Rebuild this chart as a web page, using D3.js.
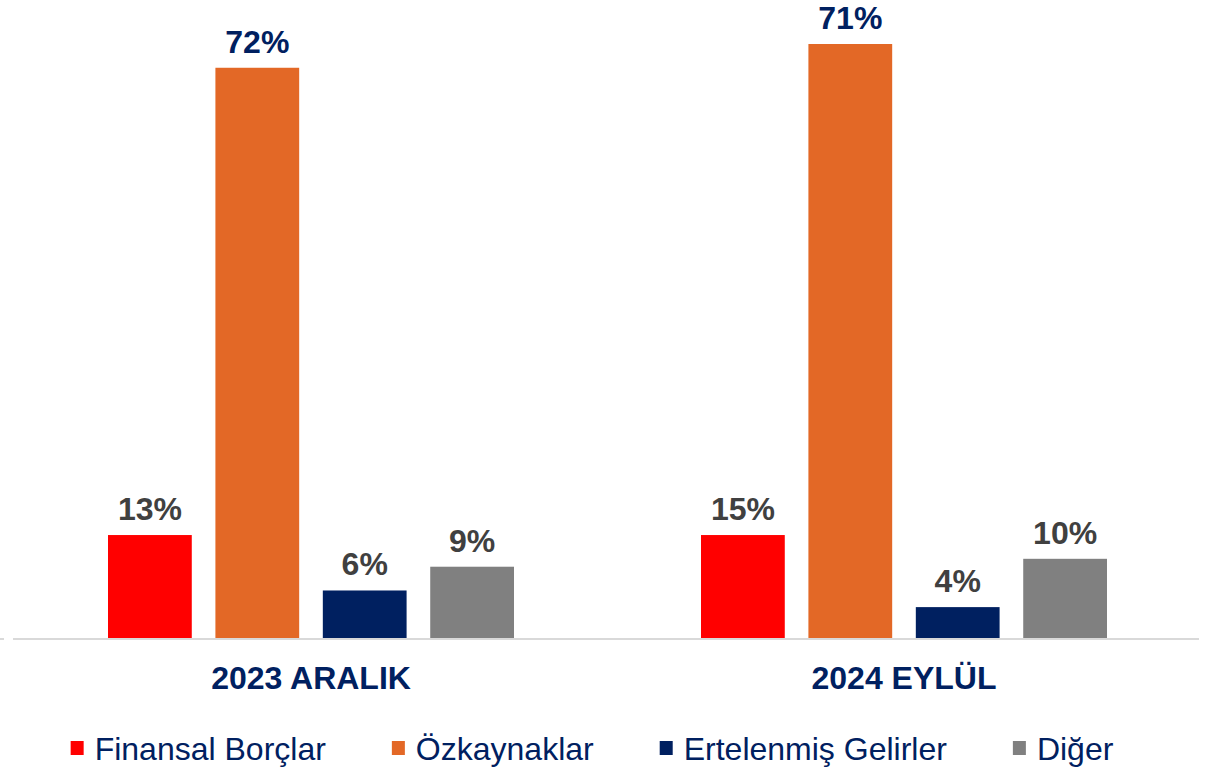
<!DOCTYPE html>
<html>
<head>
<meta charset="utf-8">
<script src="https://cdn.jsdelivr.net/npm/d3@7"></script>
<style>
  html, body { margin: 0; padding: 0; background: #fff; }
  svg { display: block; font-family: "Liberation Sans", Arial, sans-serif; }
</style>
</head>
<body>
<div id="chart"></div>
<script>
// data
const groups = ['2023 ARALIK', '2024 EYLÜL'];
const series = ['Finansal Borçlar', 'Özkaynaklar', 'Ertelenmiş Gelirler', 'Diğer'];
const colors = ['#ff0000', '#e36826', '#002060', '#808080'];
// bar heights as drawn (percent units)
const values2023 = [13, 72, 6, 9];
const values2024 = [13, 75, 3.9, 10];
// printed labels
const labels2023 = ['13%', '72%', '6%', '9%'];
const labels2024 = ['15%', '71%', '4%', '10%'];

const values = [values2023, values2024];
const labels = [labels2023, labels2024];

const width = 1226, height = 768;
const baseY = 638;

const svg = d3.select('#chart').append('svg')
    .attr('width', width).attr('height', height);

const x0 = d3.scaleBand().domain(groups).range([14.5, 1200.5]).padding(0);
const x1 = d3.scaleBand().domain(series)
    .range([-203, 203]).paddingInner(0.22).paddingOuter(0);
const y = d3.scaleLinear().domain([0, 80]).range([baseY, baseY - 633.6]);

// baseline
svg.append('line')
    .attr('x1', 13).attr('x2', 1199)
    .attr('y1', baseY + 1).attr('y2', baseY + 1)
    .attr('stroke', '#d9d9d9').attr('stroke-width', 2);
svg.append('line')
    .attr('x1', 0).attr('x2', 4)
    .attr('y1', baseY + 1).attr('y2', baseY + 1)
    .attr('stroke', '#d9d9d9').attr('stroke-width', 2);

const g = svg.selectAll('g.group').data(groups).join('g')
    .attr('class', 'group')
    .attr('transform', d => `translate(${x0(d) + x0.bandwidth() / 2},0)`);

const rows = (d, i) => values[i].map((v, j) => ({ v, j, s: series[j], lab: labels[i][j] }));

g.selectAll('rect').data(rows).join('rect')
    .attr('x', d => x1(d.s))
    .attr('width', x1.bandwidth())
    .attr('y', d => y(d.v))
    .attr('height', d => baseY - y(d.v))
    .attr('fill', d => colors[d.j]);

g.selectAll('text.val').data(rows).join('text')
    .attr('class', 'val')
    .attr('x', d => x1(d.s) + x1.bandwidth() / 2)
    .attr('y', d => y(d.v) - 15)
    .attr('text-anchor', 'middle')
    .attr('font-size', 32).attr('font-weight', 'bold')
    .attr('fill', d => d.j === 1 ? '#002060' : '#404040')
    .text(d => d.lab);

g.append('text')
    .attr('y', 689)
    .attr('text-anchor', 'middle')
    .attr('font-size', 32).attr('font-weight', 'bold')
    .attr('fill', '#002060')
    .text(d => d);

// legend
const legend = svg.append('g');
const items = legend.selectAll('g').data(series).join('g');
items.append('rect')
    .attr('width', 13).attr('height', 14)
    .attr('y', 741)
    .attr('fill', (d, i) => colors[i]);
items.append('text')
    .attr('x', 24).attr('y', 760)
    .attr('font-size', 32)
    .attr('fill', '#002060')
    .text(d => d);

let lx = 0;
const gap = 66;
items.each(function () {
  const w = 24 + d3.select(this).select('text').node().getComputedTextLength();
  d3.select(this).attr('transform', `translate(${lx},0)`);
  lx += w + gap;
});
const total = lx - gap;
legend.attr('transform', `translate(${592 - total / 2},0)`);
</script>
</body>
</html>
